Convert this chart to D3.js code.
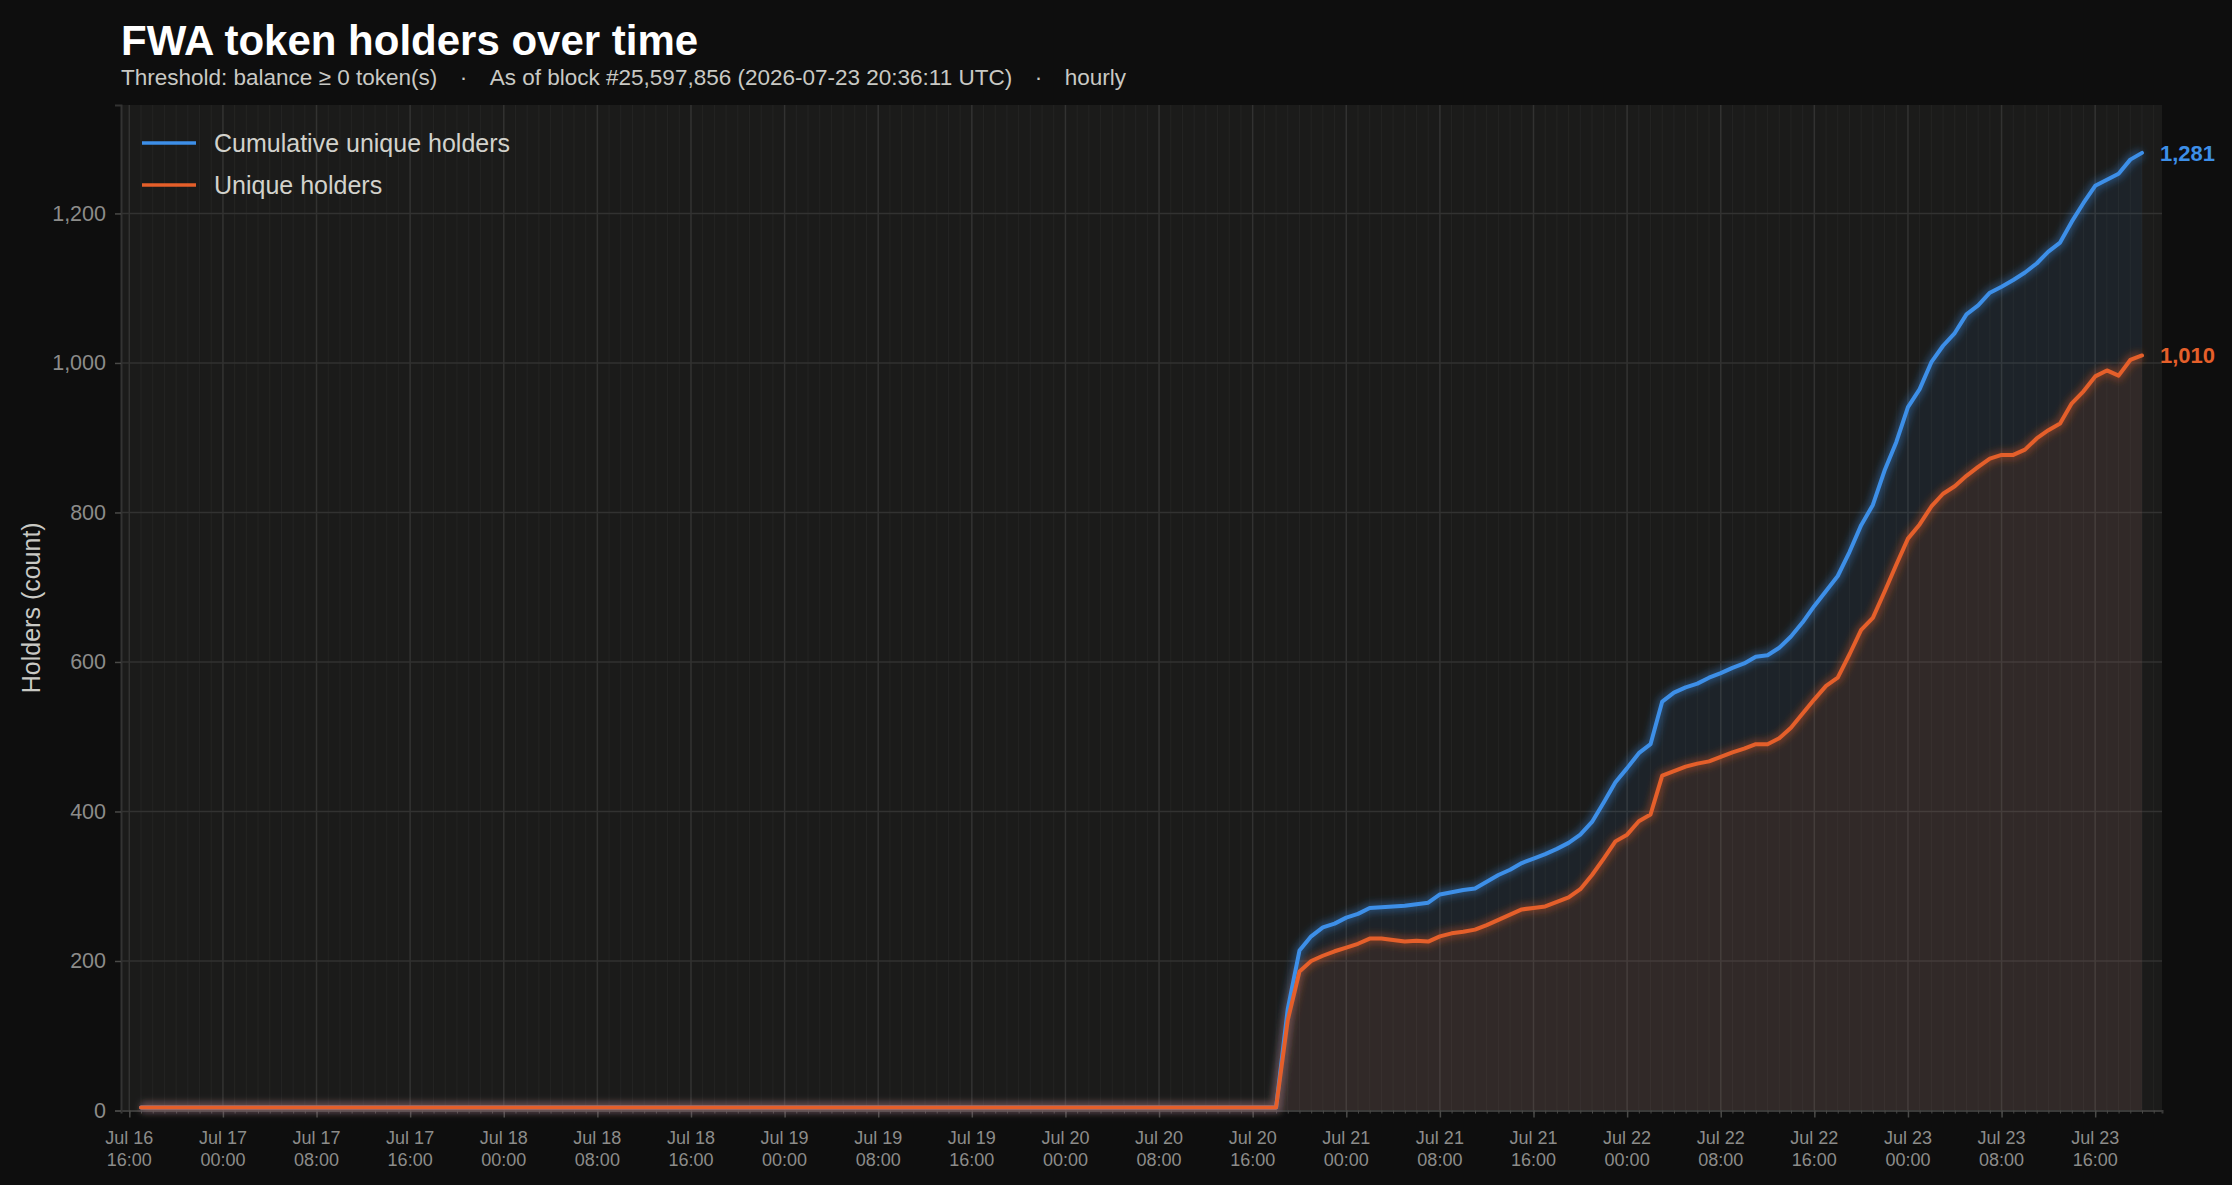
<!DOCTYPE html>
<html>
<head>
<meta charset="utf-8">
<script src="https://cdn.jsdelivr.net/npm/d3@7"></script>
<style>
  html, body { margin: 0; padding: 0; background: #0e0e0e; }
  svg { display: block; font-family: 'Liberation Sans', Arial, sans-serif; }
</style>
</head>
<body>
<script>
// FWA token holders - hourly buckets

const chartTitle = 'FWA token holders over time';
const subtitleParts = ['Threshold: balance \u2265 0 token(s)', 'As of block #25,597,856 (2026-07-23 20:36:11 UTC)', 'hourly'];
const seriesNames = ['Cumulative unique holders', 'Unique holders'];
const yAxisTitle = 'Holders (count)';
const yTickValues = [0, 200, 400, 600, 800, 1000, 1200];
const firstHour = '2026-07-16T17:00:00Z'; // one value per hour from here

const cumulativeHolders = [
    4, 4, 4, 4, 4, 4, 4, 4, 4, 4, 4, 4, 4, 4,
    4, 4, 4, 4, 4, 4, 4, 4, 4, 4, 4, 4, 4, 4,
    4, 4, 4, 4, 4, 4, 4, 4, 4, 4, 4, 4, 4, 4,
    4, 4, 4, 4, 4, 4, 4, 4, 4, 4, 4, 4, 4, 4,
    4, 4, 4, 4, 4, 4, 4, 4, 4, 4, 4, 4, 4, 4,
    4, 4, 4, 4, 4, 4, 4, 4, 4, 4, 4, 4, 4, 4,
    4, 4, 4, 4, 4, 4, 4, 4, 4, 4, 4, 4, 4, 4,
    136, 214, 233, 245, 250, 258, 263, 271, 272, 273, 274, 276, 278, 289,
    292, 295, 297, 306, 315, 322, 331, 337, 343, 350, 358, 369, 386, 412,
    439, 458, 478, 490, 547, 559, 566, 571, 579, 585,
    592, 598, 607, 609, 619, 634, 653, 675, 695, 715, 747, 783, 810, 856,
    894, 941, 965, 1001, 1023, 1040, 1065, 1077, 1094, 1102, 1111, 1121, 1133, 1149,
    1161, 1189, 1214, 1237, 1245, 1253, 1272, 1281
];

const uniqueHolders = [
    4, 4, 4, 4, 4, 4, 4, 4, 4, 4, 4, 4, 4, 4,
    4, 4, 4, 4, 4, 4, 4, 4, 4, 4, 4, 4, 4, 4,
    4, 4, 4, 4, 4, 4, 4, 4, 4, 4, 4, 4, 4, 4,
    4, 4, 4, 4, 4, 4, 4, 4, 4, 4, 4, 4, 4, 4,
    4, 4, 4, 4, 4, 4, 4, 4, 4, 4, 4, 4, 4, 4,
    4, 4, 4, 4, 4, 4, 4, 4, 4, 4, 4, 4, 4, 4,
    4, 4, 4, 4, 4, 4, 4, 4, 4, 4, 4, 4, 4, 4,
    121, 186, 200, 207, 213, 218, 223, 230, 230, 228, 226, 227, 226, 233,
    237, 239, 242, 248, 255, 262, 269, 271, 273, 279, 285, 296, 315, 337,
    360, 369, 387, 396, 448, 454, 460, 464, 467, 473,
    479, 484, 490, 490, 498, 512, 531, 550, 568, 579, 610, 643, 659, 694,
    730, 765, 784, 808, 825, 835, 849, 861, 872, 877, 877, 884, 899, 910,
    919, 946, 962, 982, 990, 983, 1004, 1010
];

const seriesColors = ['#3d8fe8', '#e55f2a'];


function drawChart() {

    const width = 2232,
        height = 1185,
        leftMargin = 121,
        rightMargin = 70,
        topMargin = 105,
        bottomMargin = 74.5;

    const start = new Date(firstHour);
    const times = cumulativeHolders.map((d, i) => d3.utcHour.offset(start, i));
    const t0 = times[0], t1 = times[times.length - 1];
    const pad = (t1 - t0) * 0.01;

    const scaleX = d3.scaleUtc()
        .domain([new Date(+t0 - pad), new Date(+t1 + pad)])
        .range([leftMargin, width - rightMargin]);

    const scaleY = d3.scaleLinear()
        .domain([0, d3.max(cumulativeHolders) * 1.05])
        .range([height - bottomMargin, topMargin]);

    const svg = d3.select('body')
        .append('svg')
        .attr('width', width)
        .attr('height', height);

    svg.append('rect')
        .attr('width', width).attr('height', height)
        .attr('fill', '#0e0e0e');

    // title + subtitle
    svg.append('text')
        .attr('x', 121).attr('y', 55)
        .attr('fill', '#ffffff')
        .attr('font-size', 42)
        .attr('font-weight', 'bold')
        .text(chartTitle);

    svg.append('text')
        .attr('x', 121).attr('y', 85)
        .attr('fill', '#c9c9c4')
        .attr('font-size', 22.5)
        .style('white-space', 'pre')
        .text(subtitleParts.join('\u2003\u00b7\u2003'));

    const plotLeft = scaleX.range()[0], plotRight = scaleX.range()[1];
    const plotTop = scaleY.range()[1], plotBottom = scaleY.range()[0];

    svg.append('rect')
        .attr('x', plotLeft).attr('y', plotTop)
        .attr('width', plotRight - plotLeft)
        .attr('height', plotBottom - plotTop)
        .attr('fill', '#1b1b1a');

    // grid: hourly minor, 8-hourly major
    const hours = d3.utcHour.range(scaleX.domain()[0], scaleX.domain()[1]);
    const majorHours = hours.filter(d => d.getUTCHours() % 8 === 0);

    svg.append('g').selectAll('line')
        .data(hours).enter()
        .append('line')
        .attr('x1', d => scaleX(d)).attr('x2', d => scaleX(d))
        .attr('y1', plotTop).attr('y2', plotBottom)
        .attr('stroke', '#242423')
        .attr('stroke-width', 1);

    svg.append('g').selectAll('line')
        .data(majorHours).enter()
        .append('line')
        .attr('x1', d => scaleX(d)).attr('x2', d => scaleX(d))
        .attr('y1', plotTop).attr('y2', plotBottom)
        .attr('stroke', '#323231')
        .attr('stroke-width', 1.5);

    svg.append('g').selectAll('line')
        .data(yTickValues.slice(1)).enter()
        .append('line')
        .attr('x1', plotLeft).attr('x2', plotRight)
        .attr('y1', d => scaleY(d)).attr('y2', d => scaleY(d))
        .attr('stroke', '#323231')
        .attr('stroke-width', 1.5);

    // areas
    const rows = times.map((t, i) => ({ t: t, cum: cumulativeHolders[i], uni: uniqueHolders[i] }));

    const areaCum = d3.area().x(d => scaleX(d.t)).y0(scaleY(0)).y1(d => scaleY(d.cum));
    const areaUni = d3.area().x(d => scaleX(d.t)).y0(scaleY(0)).y1(d => scaleY(d.uni));

    svg.append('path').datum(rows)
        .attr('d', areaCum)
        .attr('fill', seriesColors[0])
        .attr('fill-opacity', 0.075);

    svg.append('path').datum(rows)
        .attr('d', areaUni)
        .attr('fill', seriesColors[1])
        .attr('fill-opacity', 0.1);

    // axes
    const xAxis = d3.axisBottom(scaleX)
        .tickValues(hours)
        .tickSize(3)
        .tickFormat('');

    const xg = svg.append('g')
        .attr('transform', `translate(0, ${plotBottom})`)
        .call(xAxis);
    xg.select('.domain').attr('stroke', '#3a3a39').attr('stroke-width', 2);
    xg.selectAll('.tick line').attr('stroke', '#4a4a48');

    const xMajor = svg.append('g')
        .attr('transform', `translate(0, ${plotBottom})`)
        .call(d3.axisBottom(scaleX).tickValues(majorHours).tickSize(7).tickFormat(''));
    xMajor.select('.domain').remove();
    xMajor.selectAll('.tick line').attr('stroke', '#4a4a48').attr('stroke-width', 1.5);

    const fmtDay = d3.utcFormat('%b %-d'), fmtHour = d3.utcFormat('%H:%M');
    const xLabels = svg.append('g').selectAll('text')
        .data(majorHours).enter()
        .append('text')
        .attr('x', d => scaleX(d))
        .attr('y', plotBottom + 33)
        .attr('text-anchor', 'middle')
        .attr('fill', '#8c8c8a')
        .attr('font-size', 18);
    xLabels.append('tspan').attr('x', d => scaleX(d)).text(d => fmtDay(d));
    xLabels.append('tspan').attr('x', d => scaleX(d)).attr('dy', 22.5).text(d => fmtHour(d));

    const yg = svg.append('g')
        .attr('transform', `translate(${plotLeft}, 0)`)
        .call(d3.axisLeft(scaleY).tickValues(yTickValues).tickSize(6).tickPadding(9).tickFormat(d3.format(',')));
    yg.select('.domain').attr('stroke', '#333332').attr('stroke-width', 2);
    yg.selectAll('.tick line').attr('stroke', '#4a4a48').attr('stroke-width', 1.5);
    yg.selectAll('.tick text')
        .attr('fill', '#8c8c8a')
        .attr('font-size', 21.5)
        .attr('font-family', "'Liberation Sans', Arial, sans-serif");

    svg.append('text')
        .attr('transform', `translate(31, ${(plotTop + plotBottom) / 2}) rotate(-90)`)
        .attr('text-anchor', 'middle')
        .attr('dy', '0.35em')
        .attr('fill', '#c9c9c4')
        .attr('font-size', 25)
        .text(yAxisTitle);

    // lines with soft glow
    const defs = svg.append('defs');
    defs.append('filter')
        .attr('id', 'glow')
        .attr('filterUnits', 'userSpaceOnUse')
        .attr('x', 0).attr('y', 0).attr('width', width).attr('height', height)
        .append('feGaussianBlur')
        .attr('stdDeviation', 3.5);

    const keys = ['cum', 'uni'];
    keys.forEach((k, i) => {
        const line = d3.line().x(d => scaleX(d.t)).y(d => scaleY(d[k]));
        svg.append('path').datum(rows)
            .attr('d', line)
            .attr('fill', 'none')
            .attr('stroke', seriesColors[i])
            .attr('stroke-width', 10)
            .attr('stroke-opacity', 0.35)
            .attr('filter', 'url(#glow)');
    });
    // blue first, orange drawn on top
    keys.forEach((k, i) => {
        const line = d3.line().x(d => scaleX(d.t)).y(d => scaleY(d[k]));
        svg.append('path').datum(rows)
            .attr('d', line)
            .attr('fill', 'none')
            .attr('stroke', seriesColors[i])
            .attr('stroke-width', 4)
            .attr('stroke-linejoin', 'round')
            .attr('stroke-linecap', 'round');
    });

    // end value labels
    const last = rows[rows.length - 1];
    keys.forEach((k, i) => {
        svg.append('text')
            .attr('x', scaleX(last.t) + 18)
            .attr('y', scaleY(last[k]))
            .attr('dy', '0.35em')
            .attr('fill', seriesColors[i])
            .attr('font-size', 22)
            .attr('font-weight', 'bold')
            .text(d3.format(',')(last[k]));
    });

    // legend
    const legend = svg.append('g');
    seriesNames.forEach((name, i) => {
        const y = 143 + i * 42;
        legend.append('line')
            .attr('x1', 142).attr('x2', 196)
            .attr('y1', y).attr('y2', y)
            .attr('stroke', seriesColors[i])
            .attr('stroke-width', 3.5);
        legend.append('text')
            .attr('x', 214).attr('y', y)
            .attr('dy', '0.35em')
            .attr('fill', '#d2d2cc')
            .attr('font-size', 25)
            .text(name);
    });
}

window.onload = function() {
    drawChart();
};
</script>
</body>
</html>
